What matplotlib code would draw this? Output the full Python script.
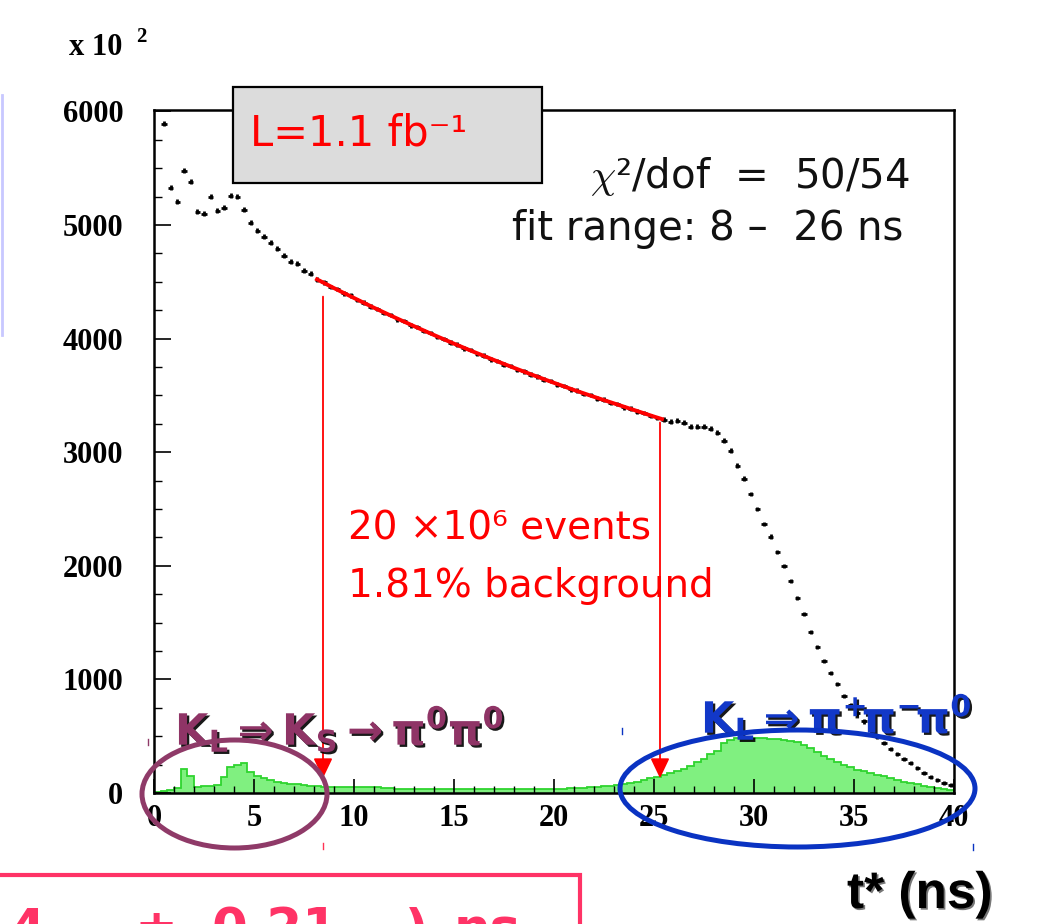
import numpy as np
import matplotlib
matplotlib.use("Agg")
import matplotlib.pyplot as plt
import matplotlib.patheffects as pe
from matplotlib.patches import Ellipse, Rectangle
from matplotlib.lines import Line2D
from matplotlib.ticker import MultipleLocator

plt.rcParams['mathtext.fontset'] = 'dejavusans'

W, H = 1042, 924
NAN = float('nan')

# ---------------- data (counts in units of 10^2) ----------------
t_min, t_max, n_bins = 0, 40, 120

data_counts = [
    NAN, 5894, 5330, 5207, 5480, 5383, 5119, 5101, 5251, 5128,
    5154, 5260, 5251, 5137, 5022, 4952, 4899, 4846, 4793, 4731,
    4678, 4661, 4599, 4573, 4520, 4495, 4455, 4436, 4398, 4380,
    4340, 4318, 4281, 4262, 4226, 4208, 4170, 4155, 4118, 4101,
    4066, 4049, 4014, 3998, 3964, 3947, 3914, 3899, 3866, 3851,
    3818, 3804, 3772, 3758, 3726, 3713, 3683, 3669, 3638, 3626,
    3596, 3584, 3554, 3542, 3513, 3502, 3473, 3462, 3434, 3424,
    3396, 3385, 3358, 3347, 3320, 3302, 3288, 3269, 3278, 3260,
    3225, 3225, 3225, 3207, 3172, 3101, 3013, 2881, 2767, 2634,
    2502, 2370, 2256, 2123, 2000, 1868, 1718, 1577, 1419, 1286,
    1163, 1057, 960, 855, 775, 700, 630, 560, 495, 440,
    388, 344, 300, 264, 220, 176, 141, 115, 88, 70,
]

bkg_counts = [
    5, 15, 30, 45, 215, 150, 55, 60, 62, 70,
    140, 230, 250, 265, 185, 150, 132, 115, 97, 88,
    80, 75, 70, 65, 60, 55, 53, 53, 52, 53,
    52, 51, 52, 50, 44, 40, 36, 35, 36, 35,
    36, 35, 36, 36, 35, 36, 34, 35, 36, 35,
    34, 35, 36, 35, 34, 35, 36, 35, 36, 35,
    36, 38, 40, 42, 45, 50, 55, 60, 65, 72,
    80, 90, 100, 115, 128, 142, 155, 175, 195, 215,
    240, 270, 300, 340, 370, 440, 465, 480, 485, 488,
    485, 480, 478, 476, 470, 455, 445, 420, 395, 365,
    330, 295, 270, 245, 225, 205, 190, 175, 162, 148,
    130, 115, 100, 88, 75, 62, 52, 45, 35, 28,
]

fit_t = [8.15, 9, 10, 11, 12, 13, 14, 15, 16, 17, 18, 19, 20, 21, 22, 23, 24, 25, 25.4]
fit_counts = [4522, 4445, 4358, 4272, 4190, 4110, 4032, 3956, 3883, 3812,
              3743, 3676, 3611, 3548, 3488, 3430, 3372, 3314, 3292]

arrow_t = [8.45, 25.3]
arrow_top = [4370, 3262]
arrow_tip = 130

x_major = [0, 5, 10, 15, 20, 25, 30, 35, 40]
y_major = [0, 1000, 2000, 3000, 4000, 5000, 6000]

# ---------------- figure ----------------
fig = plt.figure(figsize=(W / 100, H / 100), dpi=100)
fig.patch.set_facecolor('white')


def fx(px):
    return px / W


def fy(py):
    return 1 - py / H


ax = fig.add_axes([fx(154), fy(793), 800 / W, (793 - 110) / H])
ax.set_xlim(t_min, t_max)
ax.set_ylim(0, 6013)

edges = np.linspace(t_min, t_max, n_bins + 1)
centers = 0.5 * (edges[:-1] + edges[1:])

ax.stairs(bkg_counts, edges, fill=True, facecolor='#80f080', edgecolor='none', zorder=1)
ax.stairs(bkg_counts, edges, color='#2fd42f', lw=1.3, zorder=1.5)

ax.errorbar(centers, data_counts, xerr=0.14, yerr=20, fmt='none', ecolor='black',
            elinewidth=2.0, zorder=3)
ax.plot(fit_t, fit_counts, color='red', lw=2.8, zorder=4)

for t, top in zip(arrow_t, arrow_top):
    ax.annotate('', xy=(t, arrow_tip), xytext=(t, top),
                arrowprops=dict(arrowstyle='-|>,head_length=0.42,head_width=0.2',
                                color='red', lw=1.3, mutation_scale=29,
                                shrinkA=0, shrinkB=0), zorder=5)

for s in ax.spines.values():
    s.set_linewidth(1.8)
    s.set_color('black')

ax.set_xticks(x_major)
ax.set_yticks(y_major)
ax.xaxis.set_minor_locator(MultipleLocator(1))
ax.yaxis.set_minor_locator(MultipleLocator(250))
ax.tick_params(which='both', direction='in', top=False, right=False)
ax.tick_params(axis='x', which='major', length=10, width=1.2, pad=8)
ax.tick_params(axis='x', which='minor', length=5, width=1.0)
ax.tick_params(axis='y', which='major', length=12, width=1.2, pad=22)
ax.tick_params(axis='y', which='minor', length=5.5, width=1.0)
for lbl in ax.get_xticklabels() + ax.get_yticklabels():
    lbl.set_fontfamily('Liberation Serif')
    lbl.set_fontweight('bold')
    lbl.set_fontsize(22)

# axis multiplier
fig.text(fx(69), fy(55), 'x 10', family='Liberation Serif', weight='bold', size=22,
         va='baseline', ha='left')
fig.text(fx(136), fy(42), '2', family='Liberation Serif', weight='bold', size=15,
         va='baseline', ha='left')

# lavender line at the left
fig.add_artist(Line2D([fx(1.5)] * 2, [fy(95), fy(335)], color='#c8c8ff', lw=2))

# luminosity box
fig.add_artist(Rectangle((fx(233), fy(183)), (542 - 233) / W, (183 - 87) / H,
                         transform=fig.transFigure, facecolor='#dcdcdc',
                         edgecolor='black', lw=1.6, zorder=5))
fig.text(fx(250), fy(145), 'L=1.1 fb\u207b\u00b9', color='red', size=30,
         family='DejaVu Sans', va='baseline', ha='left', zorder=6)

fig.text(fx(910), fy(188), r'$\chi$' + '\u00b2/dof  =  50/54', color='#111111', size=29,
         family='DejaVu Sans', math_fontfamily='cm', va='baseline', ha='right')
fig.text(fx(512), fy(240), 'fit range: 8 \u2013  26 ns', color='#111111', size=29,
         family='DejaVu Sans', va='baseline', ha='left')

fig.text(fx(348), fy(540), '20 \u00d710\u2076 events', color='red', size=28,
         family='DejaVu Sans', va='baseline', ha='left')
fig.text(fx(348), fy(597), '1.81% background', color='red', size=28,
         family='DejaVu Sans', va='baseline', ha='left')

shadow = [pe.SimplePatchShadow(offset=(1.6, -1.6), shadow_rgbFace='black', alpha=0.9),
          pe.Normal()]
fig.text(fx(175), fy(745), r'$\mathbf{K_L \Rightarrow K_S \rightarrow \pi^0\pi^0}$',
         color='#8f3466', size=31, va='baseline', ha='left', path_effects=shadow, zorder=6)
fig.text(fx(701), fy(733), r'$\mathbf{K_L \Rightarrow \pi^{+}\!\pi^{-}\!\pi^{0}}$',
         color='#1238c8', size=31, va='baseline', ha='left', path_effects=shadow, zorder=6)

# ellipses
fig.add_artist(Ellipse((fx(234.5), fy(794)), 185 / W, 108 / H, transform=fig.transFigure,
                       fill=False, edgecolor='#8f3a68', lw=3.6, zorder=7))
fig.add_artist(Ellipse((fx(797.5), fy(788.5)), 355 / W, 117 / H, transform=fig.transFigure,
                       fill=False, edgecolor='#0a33c2', lw=3.6, zorder=7))

# small selection marks
for (px, py, c) in [(148, 742, '#8f3a68'), (323, 846, '#ff3355'),
                    (622, 731, '#0a33c2'), (973, 847, '#0a33c2')]:
    fig.add_artist(Line2D([fx(px)] * 2, [fy(py - 3), fy(py + 3)], color=c, lw=1))

# x-axis title
fig.text(fx(847), fy(908), 't* (ns)', family='Liberation Sans', weight='bold', size=37,
         color='black', va='baseline', ha='left',
         path_effects=[pe.SimplePatchShadow(offset=(1.2, -1.2), shadow_rgbFace='#555555',
                                            alpha=0.8), pe.Normal()])

# pink result box at the bottom (cut off by the page edge)
pink = '#ff3366'
fig.add_artist(Rectangle((fx(-10), fy(960)), (580 + 10) / W, (960 - 875) / H,
                         transform=fig.transFigure, fill=False,
                         edgecolor=pink, lw=3, zorder=6))
for txt, px in [('4', 10), ('\u00b1', 135), ('0.21', 212), (')', 405), ('ns', 454)]:
    fig.text(fx(px), fy(946), txt, color=pink, size=37, family='DejaVu Sans',
             weight='bold', va='baseline', ha='left')

fig.savefig('out.png', dpi=100)
